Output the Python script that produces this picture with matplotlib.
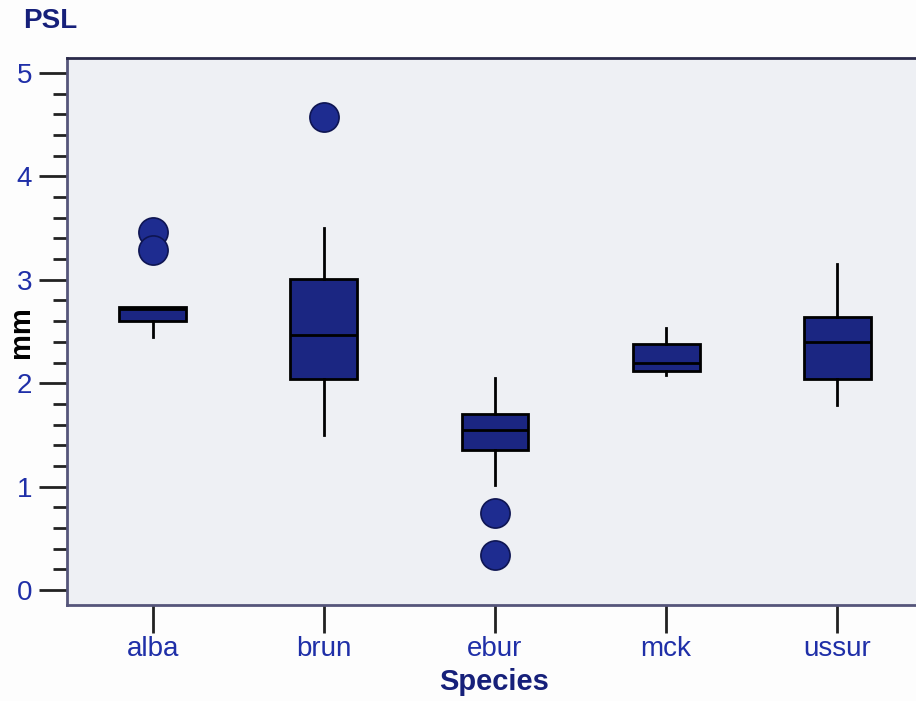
import matplotlib
matplotlib.use("Agg")
import matplotlib.pyplot as plt
from matplotlib.ticker import MultipleLocator

# Box statistics for PSL (mm) per species
species = ["alba", "brun", "ebur", "mck", "ussur"]
whisker_low = [2.45, 1.50, 1.02, 2.08, 1.79]
q1 = [2.60, 2.04, 1.35, 2.12, 2.04]
median = [2.72, 2.47, 1.55, 2.20, 2.40]
q3 = [2.74, 3.01, 1.70, 2.38, 2.64]
whisker_high = [2.74, 3.50, 2.05, 2.53, 3.15]
outliers = [[3.46, 3.29], [4.57], [0.74, 0.34], [], []]

y_ticks = [0, 1, 2, 3, 4, 5]

navy = "#1b2682"
label_blue = "#1f2fa8"
title_navy = "#16207a"

plt.rcParams["font.family"] = ["Liberation Sans", "DejaVu Sans"]

fig = plt.figure(figsize=(9.16, 7.01), dpi=100, facecolor="#fdfdfd")
ax = fig.add_axes([67 / 916, 96 / 701, 856 / 916, 547 / 701])
ax.set_facecolor("#eef0f4")

stats = []
for i, name in enumerate(species):
    stats.append(dict(label=name, whislo=whisker_low[i], q1=q1[i], med=median[i],
                      q3=q3[i], whishi=whisker_high[i], fliers=outliers[i]))

ax.bxp(stats, positions=range(len(species)), widths=0.39, patch_artist=True,
       showcaps=False,
       boxprops=dict(facecolor=navy, edgecolor="black", linewidth=2),
       medianprops=dict(color="black", linewidth=2),
       whiskerprops=dict(color="black", linewidth=2),
       flierprops=dict(marker="o", markersize=21, markerfacecolor="#1e2c90",
                       markeredgecolor="#0e1552", markeredgewidth=1.2))

ax.set_xlim(-0.5, 4.5)
ax.set_ylim(-0.145, 5.145)
ax.set_yticks(y_ticks)
ax.set_yticklabels([str(t) for t in y_ticks])
ax.yaxis.set_minor_locator(MultipleLocator(0.2))

ax.tick_params(axis="both", which="major", length=20, width=2, color="#222222",
               labelsize=20, labelcolor=label_blue)
ax.tick_params(axis="y", which="major", pad=5)
ax.tick_params(axis="x", which="major", pad=2)
ax.tick_params(axis="y", which="minor", length=10, width=2, color="#222222")

for side in ["left", "bottom", "top"]:
    ax.spines[side].set_linewidth(2)
ax.spines["top"].set_color("#2a2a4a")
ax.spines["left"].set_color("#55557a")
ax.spines["bottom"].set_color("#55557a")
ax.spines["right"].set_visible(False)

# Axis titles and chart title placed in figure pixels
fig.text(494 / 916, 1 - 682 / 701, "Species", fontsize=21, fontweight="bold",
         color=title_navy, ha="center", va="center")
fig.text(21 / 916, 1 - 332 / 701, "mm", fontsize=21, fontweight="bold",
         color="black", ha="center", va="center", rotation=90)
fig.text(23 / 916, 1 - 21 / 701, "PSL", fontsize=20, fontweight="bold",
         color=title_navy, ha="left", va="center")

fig.savefig("out.png", dpi=100, facecolor=fig.get_facecolor())
